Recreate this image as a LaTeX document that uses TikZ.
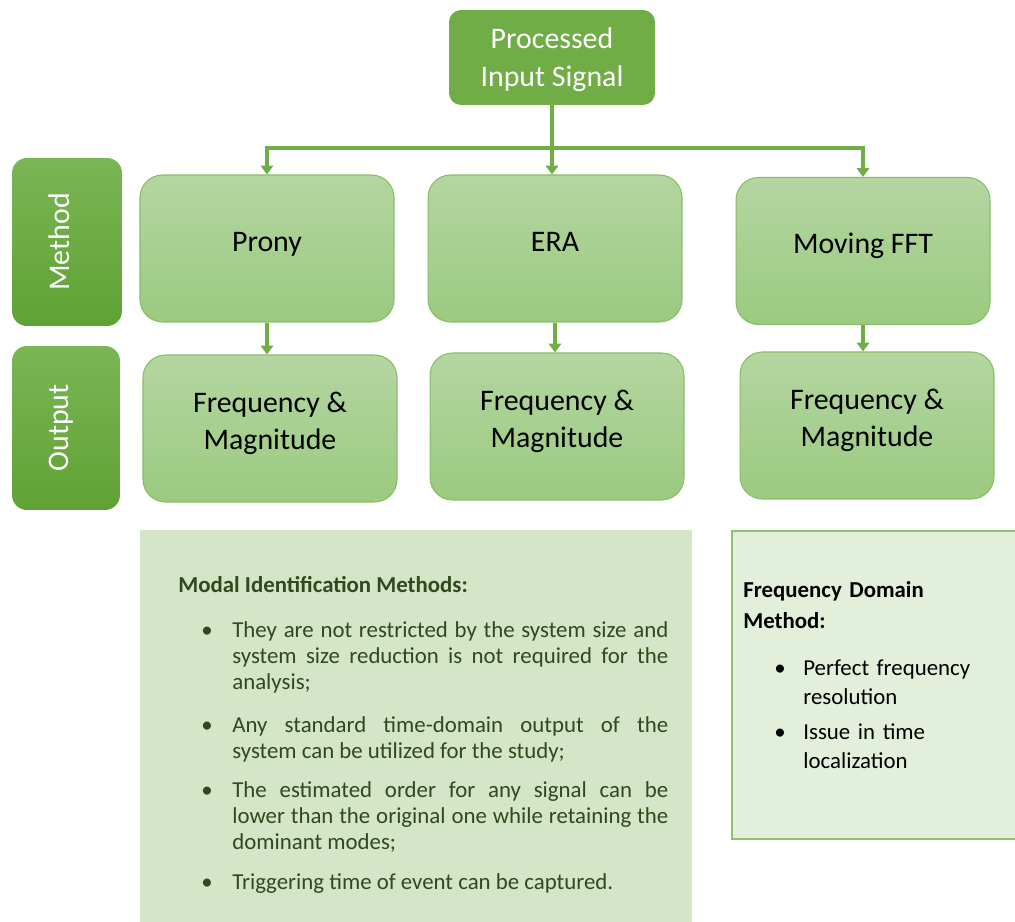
\documentclass[tikz,border=0pt]{standalone}
\usepackage{fontspec}
\setmainfont{Carlito}
\usepackage{tikz}
\usetikzlibrary{arrows.meta,positioning}

\definecolor{leaf}{HTML}{70AD47}
\definecolor{leaftop}{HTML}{7AB654}
\definecolor{leafbot}{HTML}{5FA234}
\definecolor{palttop}{HTML}{B4D6A1}
\definecolor{paltbot}{HTML}{9BCA80}
\definecolor{paltline}{HTML}{86BE66}
\definecolor{sagefill}{HTML}{D5E5C7}
\definecolor{mintfill}{HTML}{E2EFDA}
\definecolor{mintline}{HTML}{8DC26B}
\definecolor{mossink}{HTML}{2E4A1E}

\begin{document}
\begin{tikzpicture}[x=0.02cm,y=-0.02cm,
    big/.style={font=\fontsize{17}{21.5}\selectfont},
    srcbox/.style={big,rounded corners=0.24cm,fill=leaf,text=white,align=center,
      minimum width=4.12cm,minimum height=1.9cm,inner sep=0pt,
      text height=33pt,text depth=0pt},
    rowlbl/.style={big,rounded corners=0.3cm,top color=leaftop,bottom color=leafbot,
      text=white,rotate=90,inner sep=0pt,text height=3.4pt,text depth=0pt},
    mbox/.style={big,rounded corners=0.45cm,top color=palttop,bottom color=paltbot,
      draw=paltline,line width=0.6pt,align=center,
      minimum width=5.08cm,minimum height=2.94cm,inner sep=0pt,text depth=0pt},
    conn/.style={draw=leaf,line width=2pt},
    arr/.style={conn,-{Triangle[length=5pt,width=7pt]}},
    body/.style={font=\fontsize{13}{15}\selectfont,anchor=base west,inner sep=0pt},
    dot/.style={font=\fontsize{13}{15}\selectfont,anchor=base,inner sep=0pt}]
  \useasboundingbox (0,0) rectangle (1015,922);

  % source and row labels
  \node[srcbox] (input) at (552,57.5) {Processed\\Input Signal};
  \node[rowlbl,minimum width=3.36cm,minimum height=2.2cm] (lblmethod) at (67,242) {Method};
  \node[rowlbl,minimum width=3.28cm,minimum height=2.16cm] (lbloutput) at (66,428) {Output};

  % methods and their outputs
  \node[mbox,text height=3.4pt] (prony) at (267,248.5) {Prony};
  \node[mbox,text height=3.4pt] (era) at (555,248.5) {ERA};
  \node[mbox,text height=3.4pt] (fft) at (863,251) {Moving FFT};
  \foreach \m/\x/\y in {prony/270/428.5,era/557/426.5,fft/867/425.5}
    \node[mbox,text height=24.4pt] (out\m) at (\x,\y) {Frequency \&\\Magnitude};

  % connectors
  \coordinate (split) at (552,148);
  \draw[conn] (input) -- (split);
  \draw[arr] (split) -| (prony);
  \draw[arr] (split) -| (fft);
  \draw[arr] (split) -- (split |- era.north);
  \foreach \m in {prony,era,fft}
    \draw[arr] (\m) -- (\m |- out\m.north);

  % notes under the diagram
  \node[fill=sagefill,minimum width=11.04cm,minimum height=7.84cm,anchor=north west,
    inner sep=0pt] (modal) at (140,530) {};
  \node[body,font=\bfseries\fontsize{13}{15}\selectfont,text=mossink] (modalhead) at (178,592)
    {Modal Identification Methods:};
  \foreach \y/\txt [count=\k] in {
      637/{They are not restricted by the system size and\linebreak system size reduction is not required for the\linebreak analysis;},
      732/{Any standard time-domain output of the\linebreak system can be utilized for the study;},
      797/{The estimated order for any signal can be\linebreak lower than the original one while retaining the\linebreak dominant modes;},
      889/{Triggering time of event can be captured.}} {
    \node[body,text=mossink,text width=8.72cm,align=justify] (mi\k) at (232,\y) {\txt};
    \node[dot,text=mossink] (md\k) at (207,\y) {\textbullet};
  }

  \node[fill=mintfill,draw=mintline,line width=1pt,minimum width=5.68cm,minimum height=6.16cm,
    anchor=north west,inner sep=0pt] (freqdom) at (731,530) {};
  \node[body,font=\bfseries\fontsize{13}{18}\selectfont,text width=5cm,align=left] (freqhead)
    at (743,597) {Frequency Domain\\Method:};
  \foreach \y/\txt [count=\k] in {675/{Perfect frequency\\resolution},739/{Issue in time\\localization}} {
    \node[body,font=\fontsize{13}{17}\selectfont,text width=4.2cm,align=left] (fi\k) at (803,\y) {\txt};
    \node[dot] (fd\k) at (780,\y) {\textbullet};
  }
\end{tikzpicture}
\end{document}
